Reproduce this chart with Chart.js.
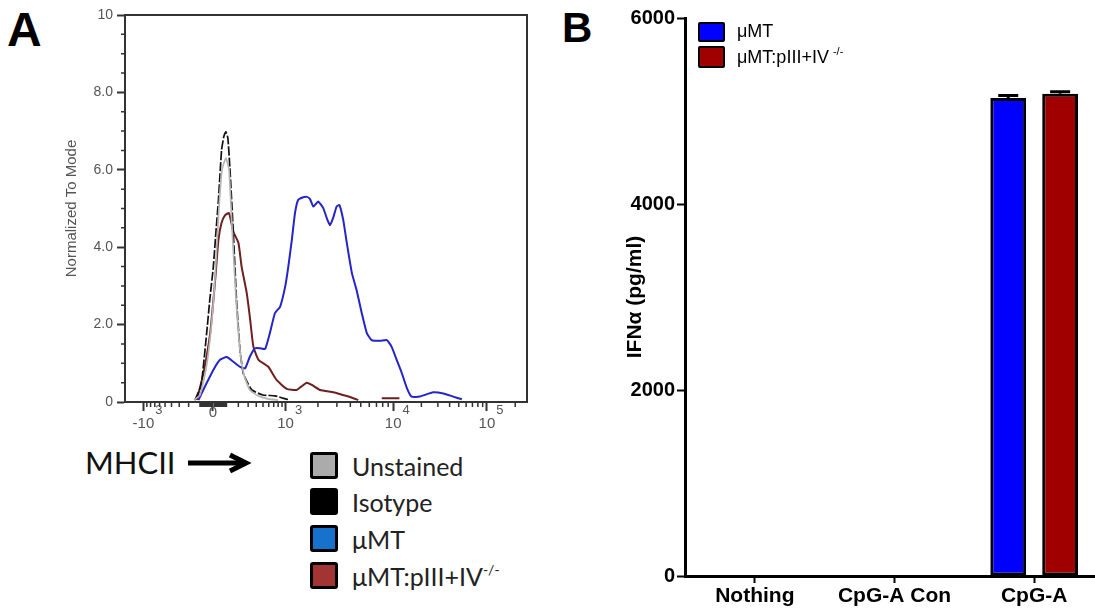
<!DOCTYPE html>
<html>
<head>
<meta charset="utf-8">
<script src="https://cdn.jsdelivr.net/npm/chart.js@4.4.1/dist/chart.umd.min.js"></script>
<style>
html, body { margin: 0; padding: 0; width: 1095px; height: 615px; overflow: hidden; background: #fff; }
.abs { position: absolute; }
.letter { font-family: "Liberation Sans", Arial, sans-serif; font-weight: bold; line-height: 1; color: #000; }
#mhcii { font-family: Lato, "Open Sans", sans-serif; font-size: 31px; line-height: 1; color: #111; }
.legA-row { position: absolute; left: 310px; height: 27px; display: flex; align-items: center; font-family: Lato, "Open Sans", sans-serif; font-size: 25px; color: #222; white-space: nowrap; }
.legA-box { width: 22px; height: 21px; border: 3px solid #000; border-radius: 3px; margin-right: 14px; }
.legA-row sup { font-size: 14px; vertical-align: 11px; }
.legB-row { position: absolute; left: 698px; display: flex; align-items: center; font-family: "Liberation Sans", Arial, sans-serif; font-size: 18px; color: #000; white-space: nowrap; }
.legB-box { width: 23px; border: 2.5px solid #000; border-radius: 2px; margin-right: 12px; }
.legB-row sup { font-size: 11px; vertical-align: 8px; margin-left: 4px; }
</style>
</head>
<body>
<div class="abs letter" style="left:7px; top:6px; font-size:48px;">A</div>
<div class="abs" style="left:0; top:0; width:560px; height:440px;"><canvas id="flowChart"></canvas></div>
<div id="mhcii" class="abs" style="left:85px; top:447px;">MHCII</div>
<svg class="abs" style="left:186px; top:451px;" width="66" height="24">
  <line x1="2" y1="12" x2="60" y2="12" stroke="#000" stroke-width="5"/>
  <polyline points="44,4 60,12 44,20" fill="none" stroke="#000" stroke-width="5" stroke-linejoin="miter"/>
</svg>
<div id="legendA"></div>

<div class="abs letter" style="left:562px; top:7px; font-size:42px;">B</div>
<div class="abs" style="left:560px; top:0; width:560px; height:615px;"><canvas id="ifnChart"></canvas></div>
<div id="legendB"></div>

<script>
// ---------- Panel A: MHCII histograms ----------
// x = display channel (0-1024, logicle axis), y = normalized to mode
const flowNames = ['Unstained', 'Isotype', 'μMT', 'μMT:pIII+IV'];
const flowSup = ['', '', '', '-/-'];
const flowLineColors = ['#b4b4b4', '#111111', '#2424c8', '#6e1f1f'];
const flowLegendColors = ['#ababab', '#000000', '#1672cc', '#a33434'];

const unstainedX = [176, 191, 206, 219, 229, 239, 247, 257, 265, 273, 283, 293, 303, 318, 339, 364, 390];
const unstainedY = [0.05, 0.18, 0.83, 1.86, 3.15, 4.96, 6.0, 6.3, 6.0, 4.44, 2.64, 1.34, 0.70, 0.31, 0.16, 0.08, 0.05];

const isotypeX = [178, 194, 208, 216, 225, 232, 238, 246, 252, 257, 262, 267, 276, 284, 293, 301, 311, 323, 351, 382, 402, 420];
const isotypeY = [0.05, 0.44, 1.78, 2.64, 3.50, 4.44, 5.22, 6.51, 6.87, 6.98, 6.82, 6.08, 4.37, 2.64, 1.34, 0.75, 0.52, 0.31, 0.18, 0.16, 0.10, 0.05];

const umtX = [187, 208, 225, 242, 259, 276, 293, 306, 318, 331, 344, 357, 369, 382, 395, 408, 416, 425, 433, 441, 454, 463, 471, 480, 492, 505, 514, 522, 530, 539, 546, 556, 565, 578, 590, 603, 616, 628, 650, 667, 679, 692, 705, 718, 730, 751, 785, 811, 836, 858];
const umtY = [0.05, 0.49, 0.83, 1.09, 1.16, 1.04, 0.91, 0.87, 1.17, 1.39, 1.39, 1.37, 1.78, 2.30, 2.46, 2.98, 3.50, 4.19, 4.88, 5.22, 5.29, 5.30, 5.25, 5.05, 5.18, 5.01, 4.75, 4.57, 4.75, 5.05, 5.09, 4.70, 4.11, 3.33, 2.89, 2.30, 1.78, 1.60, 1.58, 1.60, 1.43, 1.09, 0.75, 0.36, 0.14, 0.14, 0.25, 0.22, 0.14, 0.07];

const koX = [183, 200, 217, 229, 238, 246, 255, 265, 276, 289, 297, 310, 318, 327, 340, 365, 386, 412, 437, 448, 463, 476, 497, 531, 555, 573, 594, 620, 654, 675, 699];
const koY = [0.05, 0.75, 1.78, 3.07, 4.19, 4.63, 4.83, 4.88, 4.40, 4.11, 3.50, 2.82, 2.20, 1.43, 1.09, 0.91, 0.57, 0.34, 0.31, 0.39, 0.50, 0.44, 0.31, 0.25, 0.18, 0.13, 0.05, null, 0.10, 0.10, 0.10];

// axis ticks
const xMajorValues = [-1000, 0, 1000, 10000, 100000];
const xTickBase = ['-10', '0', '10', '10', '10'];
const xTickExp = ['3', '', '3', '4', '5'];
const yTickLabels = ['0', '2.0', '4.0', '6.0', '8.0', '10'];

// logicle-like transform: value -> display channel
const chNeg3 = 47, chZero = 224, ch3 = 409, ch4 = 683, ch5 = 922;
function toChannel(v) {
    if (v >= 10000) return ch4 + (ch5 - ch4) * (Math.log10(v) - 4);
    if (v >= 1000) return ch3 + (ch4 - ch3) * (Math.log10(v) - 3);
    const span = v >= 0 ? ch3 - chZero : chZero - chNeg3;
    return chZero + Math.sign(v) * span * Math.asinh(Math.abs(v) / 250) / Math.asinh(4);
}

const xMinorValues = [];
for (let k = 10; k < 100; k += 10) xMinorValues.push(k, -k);
for (let k = 100; k < 1000; k += 100) xMinorValues.push(k, -k);
for (let k = 2000; k < 10000; k += 1000) xMinorValues.push(k);
for (let k = 20000; k < 100000; k += 10000) xMinorValues.push(k);
xMinorValues.push(200000);
const yMinorValues = [0.5, 1, 1.5, 2.5, 3, 3.5, 4.5, 5, 5.5, 6.5, 7, 7.5, 8.5, 9, 9.5];

const toPoints = (xs, ys) => xs.map((x, i) => ({ x: x, y: ys[i] }));

const flowAxesPlugin = {
    id: 'flowAxes',
    afterDraw(chart) {
        const { ctx, chartArea: a, scales: { x, y } } = chart;
        ctx.save();
        ctx.strokeStyle = '#333';
        ctx.lineWidth = 2;
        ctx.beginPath();
        ctx.moveTo(a.left, a.top);
        ctx.lineTo(a.right, a.top);
        ctx.lineTo(a.right, a.bottom);
        ctx.stroke();

        // minor ticks
        ctx.lineWidth = 1.5;
        ctx.beginPath();
        xMinorValues.forEach(v => {
            const px = x.getPixelForValue(toChannel(v));
            if (px < a.left || px > a.right) return;
            ctx.moveTo(px, a.bottom);
            ctx.lineTo(px, a.bottom + 5);
        });
        yMinorValues.forEach(v => {
            const py = y.getPixelForValue(v);
            ctx.moveTo(a.left - 4, py);
            ctx.lineTo(a.left, py);
        });
        ctx.stroke();

        // x labels with exponents
        ctx.fillStyle = '#555';
        ctx.textBaseline = 'alphabetic';
        xMajorValues.forEach((v, i) => {
            const px = x.getPixelForValue(toChannel(v));
            ctx.font = '15px "Liberation Sans", Arial, sans-serif';
            ctx.textAlign = 'center';
            if (!xTickExp[i]) {
                ctx.fillText(xTickBase[i], px, a.bottom + 15);
                return;
            }
            ctx.fillText(xTickBase[i], px, a.bottom + 26);
            const w = ctx.measureText(xTickBase[i]).width;
            ctx.font = '13px "Liberation Sans", Arial, sans-serif';
            ctx.textAlign = 'left';
            ctx.fillText(xTickExp[i], px + w / 2 + 1, a.bottom + 12);
        });
        ctx.restore();
    }
};

function drawFlow() {
    const series = [toPoints(unstainedX, unstainedY), toPoints(isotypeX, isotypeY), toPoints(umtX, umtY), toPoints(koX, koY)];
    new Chart(document.getElementById('flowChart'), {
        type: 'line',
        data: {
            datasets: series.map((pts, i) => ({
                label: flowNames[i],
                data: pts,
                borderColor: flowLineColors[i],
                borderWidth: i < 2 ? 1.7 : 2,
                borderDash: i === 1 ? [9, 2] : [],
                pointRadius: 0,
                tension: 0.15,
                spanGaps: false,
                fill: false
            }))
        },
        options: {
            responsive: true,
            maintainAspectRatio: false,
            animation: false,
            layout: { padding: { top: 15, right: 33, left: 0, bottom: 0 } },
            plugins: { legend: { display: false }, tooltip: { enabled: false } },
            scales: {
                x: {
                    type: 'linear',
                    min: 0,
                    max: 1024,
                    afterBuildTicks: s => { s.ticks = xMajorValues.map(v => ({ value: toChannel(v) })); },
                    afterFit: s => { s.height = 38; },
                    ticks: { display: false },
                    grid: { drawOnChartArea: false, tickLength: 9, tickWidth: 2, tickColor: '#333' },
                    border: { color: '#333', width: 2 }
                },
                y: {
                    min: 0,
                    max: 10,
                    afterFit: s => { s.width = 125; },
                    ticks: {
                        stepSize: 2,
                        padding: 4,
                        color: '#555',
                        font: { size: 14 },
                        callback: (v) => yTickLabels[Math.round(v / 2)]
                    },
                    grid: { drawOnChartArea: false, tickLength: 8, tickWidth: 2, tickColor: '#333' },
                    border: { color: '#333', width: 2 },
                    title: {
                        display: true,
                        text: 'Normalized To Mode',
                        color: '#555',
                        font: { size: 15 },
                        padding: { top: 63, bottom: 0 }
                    }
                }
            }
        },
        plugins: [flowAxesPlugin]
    });

    const legendTops = [452, 488, 525, 562];
    document.getElementById('legendA').innerHTML = flowNames.map((name, i) =>
        `<div class="legA-row" style="top:${legendTops[i]}px"><div class="legA-box" style="background:${flowLegendColors[i]}"></div><span>${name}${flowSup[i] ? '<sup>' + flowSup[i] + '</sup>' : ''}</span></div>`
    ).join('');
}

// ---------- Panel B: IFN-alpha bars ----------
const conditions = ['Nothing', 'CpG-A Con', 'CpG-A'];
const groupNames = ['μMT', 'μMT:pIII+IV'];
const groupSup = ['', '-/-'];
const groupColors = ['#0000ff', '#a00000'];
const umtIfn = [0, 0, 5140];
const koIfn = [0, 0, 5185];
const umtErr = [0, 0, 28];
const koErr = [0, 0, 22];
const yTicksB = [0, 2000, 4000, 6000];

const errorBarPlugin = {
    id: 'errorBars',
    afterDatasetsDraw(chart) {
        const { ctx, scales: { y } } = chart;
        const errs = [umtErr, koErr];
        ctx.save();
        ctx.strokeStyle = '#000';
        ctx.lineWidth = 3;
        chart.data.datasets.forEach((ds, di) => {
            chart.getDatasetMeta(di).data.forEach((bar, i) => {
                if (!errs[di][i]) return;
                const top = y.getPixelForValue(ds.data[i] + errs[di][i]);
                ctx.beginPath();
                ctx.moveTo(bar.x, bar.y);
                ctx.lineTo(bar.x, top);
                ctx.moveTo(bar.x - 10, top);
                ctx.lineTo(bar.x + 10, top);
                ctx.stroke();
            });
        });
        ctx.restore();
    }
};

function drawIfn() {
    new Chart(document.getElementById('ifnChart'), {
        type: 'bar',
        data: {
            labels: conditions,
            datasets: [umtIfn, koIfn].map((vals, i) => ({
                label: groupNames[i],
                data: vals,
                backgroundColor: groupColors[i],
                borderColor: '#000',
                borderWidth: 3,
                borderSkipped: false,
                categoryPercentage: 0.743,
                barPercentage: 0.69
            }))
        },
        options: {
            responsive: true,
            maintainAspectRatio: false,
            animation: false,
            layout: { padding: { top: 18, right: 16, left: 0, bottom: 0 } },
            plugins: { legend: { display: false }, tooltip: { enabled: false } },
            scales: {
                x: {
                    afterFit: s => { s.height = 39; },
                    ticks: { color: '#000', font: { size: 21, weight: 'bold' }, padding: 1 },
                    grid: { offset: false, drawOnChartArea: false, tickLength: 7, tickWidth: 2, tickColor: '#000' },
                    border: { color: '#000', width: 3 }
                },
                y: {
                    min: 0,
                    max: 6000,
                    afterFit: s => { s.width = 125; },
                    afterBuildTicks: s => { s.ticks = yTicksB.map(v => ({ value: v })); },
                    ticks: { color: '#000', font: { size: 20, weight: 'bold' }, padding: 2, callback: v => String(v) },
                    grid: { drawOnChartArea: false, tickLength: 8, tickWidth: 2, tickColor: '#000' },
                    border: { color: '#000', width: 3 },
                    title: {
                        display: true,
                        text: 'IFNα (pg/ml)',
                        color: '#000',
                        font: { size: 21, weight: 'bold' },
                        padding: { top: 63, bottom: 0 }
                    }
                }
            }
        },
        plugins: [errorBarPlugin]
    });

    const rows = [{ top: 21, h: 16 }, { top: 45, h: 18 }];
    document.getElementById('legendB').innerHTML = groupNames.map((name, i) =>
        `<div class="legB-row" style="top:${rows[i].top}px; height:${rows[i].h + 5}px"><div class="legB-box" style="height:${rows[i].h}px; background:${groupColors[i]}"></div><span>${name}${groupSup[i] ? '<sup>' + groupSup[i] + '</sup>' : ''}</span></div>`
    ).join('');
}

window.addEventListener('DOMContentLoaded', () => {
    Chart.defaults.font.family = '"Liberation Sans", Arial, sans-serif';
    drawFlow();
    drawIfn();
});
</script>
</body>
</html>
